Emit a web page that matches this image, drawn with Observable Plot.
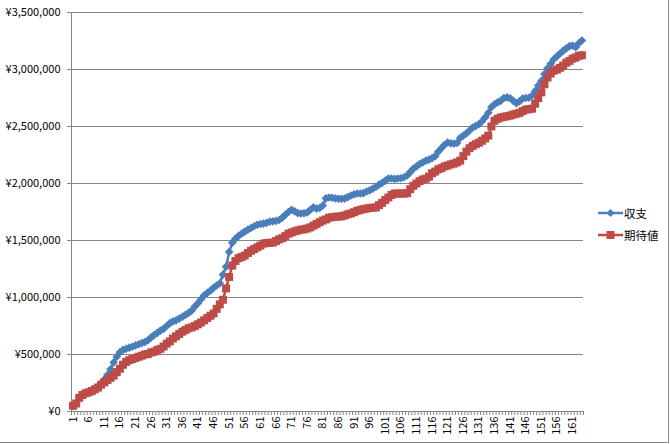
<!DOCTYPE html>
<html>
<head>
<meta charset="utf-8">
<script src="https://cdn.jsdelivr.net/npm/d3@7"></script>
<script src="https://cdn.jsdelivr.net/npm/@observablehq/plot@0.6"></script>
<style>
  html, body { margin: 0; padding: 0; background: #fff; }
  #wrap { position: relative; width: 670px; height: 444px; overflow: hidden; }
  #border { position: absolute; left: 0; top: 0; width: 668px; height: 442px;
            border-right: 1px solid #8c8c8c; border-bottom: 1px solid #8c8c8c; box-sizing: content-box; pointer-events: none; }
  #legend { position: absolute; left: 598px; top: 202px; font-family: "Noto Sans CJK JP", sans-serif; font-size: 11.5px; color: #000; }
  .item { display: flex; align-items: center; height: 22px; }
  .item span { margin-left: 1px; }
</style>
</head>
<body>
<div id="wrap">
  <div id="chart"></div>
  <div id="legend"></div>
  <div id="border"></div>
</div>
<script>
// Series names
const seriesNames = ["収支", "期待値"];
// 収支 (cumulative result), in thousands of yen
const shushi = [
  50,75,125,150,165,172,185,200,220,245,
  280,320,370,430,480,520,540,550,560,568,
  580,590,600,610,625,650,670,690,710,725,
  750,775,790,800,815,830,848,865,885,920,
  950,985,1020,1040,1060,1085,1105,1125,1200,1270,
  1400,1480,1515,1540,1560,1578,1595,1610,1625,1638,
  1645,1648,1655,1665,1668,1672,1680,1700,1725,1750,
  1770,1755,1740,1737,1740,1746,1770,1790,1780,1785,
  1807,1870,1877,1875,1870,1866,1866,1868,1880,1895,
  1905,1912,1912,1915,1930,1940,1955,1970,1990,2005,
  2025,2044,2044,2040,2044,2046,2055,2070,2100,2130,
  2150,2170,2185,2200,2210,2222,2240,2280,2310,2340,
  2360,2352,2350,2355,2400,2420,2440,2465,2490,2505,
  2520,2545,2580,2620,2670,2695,2712,2725,2750,2755,
  2748,2725,2705,2720,2745,2750,2752,2770,2810,2860,
  2900,2960,3010,3050,3090,3115,3140,3165,3185,3205,
  3210,3195,3230,3254
].map(v => v * 1000);
// 期待値 (expected value), in thousands of yen
const kitaichi = [
  50,70,120,145,160,168,180,195,210,235,
  255,275,295,315,345,375,410,435,450,460,
  470,480,490,500,505,518,525,540,550,570,
  595,615,640,660,680,700,715,730,738,750,
  765,781,800,820,840,860,900,940,980,1080,
  1180,1280,1320,1345,1355,1368,1390,1410,1425,1440,
  1455,1472,1478,1480,1482,1495,1510,1520,1540,1560,
  1570,1580,1588,1595,1598,1605,1615,1630,1645,1660,
  1675,1685,1700,1705,1708,1710,1712,1720,1730,1737,
  1748,1760,1768,1775,1780,1785,1788,1790,1810,1830,
  1855,1877,1900,1912,1912,1912,1912,1915,1950,1980,
  2000,2020,2035,2042,2060,2090,2105,2125,2135,2150,
  2158,2168,2175,2185,2200,2240,2280,2310,2330,2345,
  2358,2375,2395,2420,2500,2550,2568,2579,2585,2590,
  2596,2605,2612,2620,2635,2648,2652,2656,2700,2750,
  2800,2870,2930,2965,2990,3000,3015,3035,3060,3075,
  3095,3105,3120,3125
].map(v => v * 1000);
// Category labels shown on the x axis
const xTickLabels = [1,6,11,16,21,26,31,36,41,46,51,56,61,66,71,76,81,86,91,96,101,106,111,116,121,126,131,136,141,146,151,156,161];
// Y axis ticks
const yTicks = [0,500000,1000000,1500000,2000000,2500000,3000000,3500000];

const colors = ["#4A7EBB", "#BE4B48"];
const n = shushi.length;
const rows = [];
for (let i = 0; i < n; i++) {
  rows.push({idx: i + 1, value: shushi[i], series: seriesNames[0]});
}
const rows2 = [];
for (let i = 0; i < n; i++) {
  rows2.push({idx: i + 1, value: kitaichi[i], series: seriesNames[1]});
}
const boundaries = d3.range(0, n + 1).map(k => k + 0.5);
const yen = d => "¥" + d3.format(",")(d);

const chart = Plot.plot({
  width: 670,
  height: 444,
  marginLeft: 71,
  marginRight: 87,
  marginTop: 12,
  marginBottom: 33,
  style: { fontFamily: "'Noto Sans CJK JP', sans-serif", fontSize: "11px", background: "transparent", color: "#000" },
  x: { domain: [0.5, n + 0.5], axis: null },
  y: { domain: [0, 3500000], axis: null },
  marks: [
    Plot.ruleY(yTicks, { stroke: "#868686", strokeWidth: 1 }),
    Plot.ruleX([0.5], { stroke: "#868686", strokeWidth: 1 }),
    Plot.axisY({ ticks: yTicks, tickFormat: yen, tickSize: 4, tickPadding: 7, stroke: "#868686", fill: "#000", label: null }),
    Plot.axisX({ ticks: boundaries, tickFormat: () => "", tickSize: 4, stroke: "#868686", label: null }),
    Plot.axisX({ ticks: xTickLabels, tickFormat: d => String(d), tickSize: 0, tickRotate: -90, tickPadding: 5, fill: "#000", label: null }),
    Plot.line(rows, { x: "idx", y: "value", stroke: colors[0], strokeWidth: 2.5 }),
    Plot.dot(rows, { x: "idx", y: "value", symbol: "diamond2", r: 3.9, fill: colors[0], stroke: null }),
    Plot.line(rows2, { x: "idx", y: "value", stroke: colors[1], strokeWidth: 2.5 }),
    Plot.dot(rows2, { x: "idx", y: "value", symbol: "square", r: 4.5, fill: colors[1], stroke: null })
  ]
});
document.getElementById("chart").appendChild(chart);

// Legend
const legend = document.getElementById("legend");
seriesNames.forEach((name, k) => {
  const item = document.createElement("div");
  item.className = "item";
  const marker = k === 0
    ? `<polygon points="12.5,0 16.5,4 12.5,8 8.5,4" fill="${colors[0]}"/>`
    : `<rect x="8.5" y="0" width="8" height="8" fill="${colors[1]}"/>`;
  item.innerHTML = `<svg width="25" height="8" style="display:block"><line x1="0" x2="25" y1="4" y2="4" stroke="${colors[k]}" stroke-width="2.5"/>${marker}</svg><span>${name}</span>`;
  legend.appendChild(item);
});
</script>
</body>
</html>
